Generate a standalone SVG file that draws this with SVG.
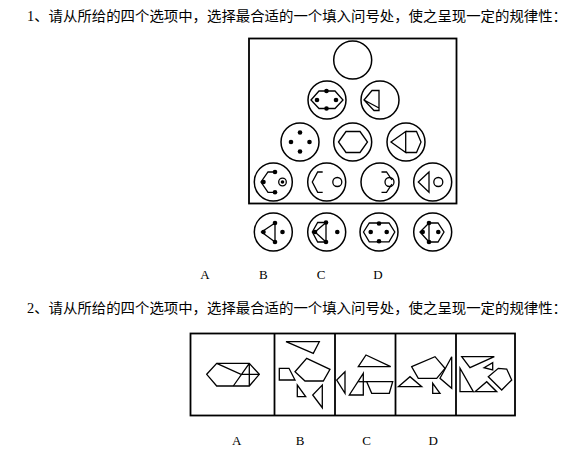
<svg xmlns="http://www.w3.org/2000/svg" width="584" height="454" viewBox="0 0 584 454">
<style>
.t{font-family:"Liberation Serif","Noto Sans CJK SC",serif;font-size:14px;fill:#000}
.l{font-family:"Liberation Serif",serif;font-size:13px;fill:#000}
.c{fill:none;stroke:#000;stroke-width:1.5}
.s{fill:none;stroke:#000;stroke-width:1.3;stroke-linejoin:miter}
.d{fill:#000}
.f{fill:none;stroke:#000;stroke-width:1.8}
</style>
<rect width="584" height="454" fill="#fff"/>
<text class="t" x="27" y="21" textLength="540" lengthAdjust="spacingAndGlyphs">1、请从所给的四个选项中，选择最合适的一个填入问号处，使之呈现一定的规律性：</text>
<g id="q1-frame"><rect class="f" x="249" y="38.5" width="207.5" height="165"/></g>
<g id="n-top"><circle class="c" cx="352.7" cy="60" r="19"/></g>
<g id="n-r2a"><circle class="c" cx="327" cy="100" r="19"/>
<polygon class="s" points="311,100 319,91 335,91 343,100 335,108.5 319,108.5"/>
<circle class="d" cx="326.5" cy="91" r="2.3"/><circle class="d" cx="326.5" cy="108.5" r="2.3"/><circle class="d" cx="317" cy="100" r="2.3"/><circle class="d" cx="336" cy="100" r="2.3"/></g>
<g id="n-r2b"><circle class="c" cx="380" cy="100" r="19"/>
<path class="s" d="M364,100 L372,90.5 L379,90.5 L379,110.5 L374,110.5 Z M364,100 L379,108"/></g>
<g id="n-r3a"><circle class="c" cx="300" cy="142" r="19"/>
<circle class="d" cx="300" cy="132.5" r="2.3"/><circle class="d" cx="300" cy="151.5" r="2.3"/><circle class="d" cx="291" cy="142" r="2.3"/><circle class="d" cx="309.5" cy="142" r="2.3"/></g>
<g id="n-r3b"><circle class="c" cx="352.7" cy="142" r="19"/>
<polygon class="s" points="338.5,142 346,131.5 360,131.5 367.5,142 360,152.5 346,152.5"/></g>
<g id="n-r3c"><circle class="c" cx="406" cy="142" r="19"/>
<path class="s" d="M405.7,131.5 L391,142 L405.7,152.5 Z M405.7,131.5 L416.5,131.5 L421,142 L416.5,152.5 L405.7,152.5"/></g>
<g id="n-r4a"><circle class="c" cx="273.3" cy="182" r="19"/>
<path class="s" d="M275,172 L268,172 L261,182 L268,192.3 L275,192.3"/>
<circle class="d" cx="275" cy="172" r="2.3"/><circle class="d" cx="275" cy="192.3" r="2.3"/><circle class="d" cx="263.5" cy="182" r="2.3"/>
<circle class="s" cx="282.5" cy="182" r="3.8"/><circle class="d" cx="282.5" cy="182" r="1.8"/></g>
<g id="n-r4b"><circle class="c" cx="326.7" cy="182" r="19"/>
<path class="s" d="M322.7,172 L317.7,172 L312.3,182 L317.7,192.3 L322.7,192.3"/>
<circle class="s" cx="337.3" cy="182" r="4.5"/></g>
<g id="n-r4c"><circle class="c" cx="380" cy="182" r="19"/>
<path class="s" d="M381.5,172 L386.5,172 L392,180 M392,184 L386.5,192.3 L381.5,192.3"/>
<circle class="s" cx="389.5" cy="182" r="4.5"/></g>
<g id="n-r4d"><circle class="c" cx="432.7" cy="182" r="19"/>
<path class="s" d="M429,172 L418.3,182 L429,192.3 Z"/>
<circle class="s" cx="438.3" cy="182" r="4.5"/></g>
<g id="opt1-a"><circle class="c" cx="273.3" cy="232" r="19"/>
<path class="s" d="M275,223 L261.5,232 L275,242 Z"/>
<circle class="d" cx="275" cy="223" r="2.3"/><circle class="d" cx="275" cy="242" r="2.3"/><circle class="d" cx="263.5" cy="232" r="2.3"/><circle class="d" cx="282.5" cy="232" r="2.3"/></g>
<g id="opt1-b"><circle class="c" cx="326.7" cy="232" r="19"/>
<path class="s" d="M326,222.5 L317.7,222.5 L312.3,232 L317.7,242 L326,242 Z M326,222.5 L315,232 L326,242"/>
<circle class="d" cx="326" cy="222.5" r="2.3"/><circle class="d" cx="326" cy="242" r="2.3"/><circle class="d" cx="315" cy="232" r="2.3"/><circle class="d" cx="337.3" cy="232" r="2.3"/></g>
<g id="opt1-c"><circle class="c" cx="379" cy="232" r="19"/>
<polygon class="s" points="363.5,232 369.3,223 389,223 394.8,232 389,241.8 369.3,241.8"/>
<circle class="d" cx="379" cy="223.5" r="2.3"/><circle class="d" cx="379" cy="241.3" r="2.3"/><circle class="d" cx="370.7" cy="232" r="2.3"/><circle class="d" cx="386.7" cy="232" r="2.3"/></g>
<g id="opt1-d"><circle class="c" cx="432.7" cy="232" r="19"/>
<path class="s" d="M429,223 L420,232 L429,242 Z M429,223 L438,223 L444,232 L438,242 L429,242"/>
<circle class="d" cx="429" cy="223" r="2.3"/><circle class="d" cx="429" cy="242" r="2.3"/><circle class="d" cx="422.7" cy="232" r="2.3"/><circle class="d" cx="438.3" cy="232" r="2.3"/></g>
<g id="labels1">
<text class="l" x="205" y="279" text-anchor="middle">A</text>
<text class="l" x="263.3" y="279" text-anchor="middle">B</text>
<text class="l" x="321" y="279" text-anchor="middle">C</text>
<text class="l" x="378" y="279" text-anchor="middle">D</text>
</g>
<text class="t" x="27" y="313" textLength="540" lengthAdjust="spacingAndGlyphs">2、请从所给的四个选项中，选择最合适的一个填入问号处，使之呈现一定的规律性：</text>
<g id="q2-frame"><rect class="f" x="190.5" y="333.5" width="324.5" height="82"/>
<line class="f" x1="274.5" y1="333.5" x2="274.5" y2="415.5"/>
<line class="f" x1="335" y1="333.5" x2="335" y2="415.5"/>
<line class="f" x1="395.5" y1="333.5" x2="395.5" y2="415.5"/>
<line class="f" x1="456" y1="333.5" x2="456" y2="415.5"/></g>
<g id="q2-cell1">
<polygon class="s" points="206.7,374.3 216.7,363.3 249.3,363.3 259.3,374.3 249.3,386 216.7,386"/>
<path class="s" d="M216.7,363.3 L241,374.3 L259.3,374.3 M249.3,363.3 L249.3,386 M249.3,363.3 L233.3,386"/></g>
<g id="q2-cell2">
<polygon class="s" points="286,341.7 319.3,341.7 313.3,353.3"/>
<polygon class="s" points="306.7,358.3 330,369.3 323.3,381 305,381 295,371.7"/>
<polygon class="s" points="279.3,368.3 289,368.3 295,380 279.3,380"/>
<polygon class="s" points="297.3,385 297.3,396.7 305.7,396.7"/>
<polygon class="s" points="322.3,385 322.3,407.7 312.7,395"/></g>
<g id="q2-cell3">
<polygon class="s" points="366,355 358.3,366.7 390.7,366.7"/>
<polygon class="s" points="345,371.7 336.7,380 345,393.3"/>
<polygon class="s" points="363.3,373.3 349.3,395 363.3,395"/>
<polygon class="s" points="366.7,381.7 392.7,381.7 389.3,393.3 371.7,393.3"/>
<path class="s" d="M358.3,381.7 L366.7,381.7"/></g>
<g id="q2-cell4">
<polygon class="s" points="411.7,366.7 435,356.7 445,368.3 436.7,378.3 418.3,378.3"/>
<polygon class="s" points="398.3,386.7 410,376.7 421.7,386.7"/>
<polygon class="s" points="432.7,383.3 432.7,393.3 440,393.3"/>
<polygon class="s" points="451.7,356.7 440,378.3 451.7,388.3"/></g>
<g id="q2-cell5">
<polygon class="s" points="461.7,356.7 494.3,356.7 470,367.7"/>
<polygon class="s" points="484,367.7 492.7,362.7 492.7,370"/>
<polygon class="s" points="460,368.3 460,391.7 473.3,391.7"/>
<polygon class="s" points="475,391.7 486.7,381.7 496.7,391.7"/>
<polygon class="s" points="488.3,376.7 498.3,368.3 506.7,369 511.7,380 501.7,390"/></g>
<g id="labels2">
<text class="l" x="236.7" y="445" text-anchor="middle">A</text>
<text class="l" x="300" y="445" text-anchor="middle">B</text>
<text class="l" x="366.7" y="445" text-anchor="middle">C</text>
<text class="l" x="433.3" y="445" text-anchor="middle">D</text>
</g>
</svg>
